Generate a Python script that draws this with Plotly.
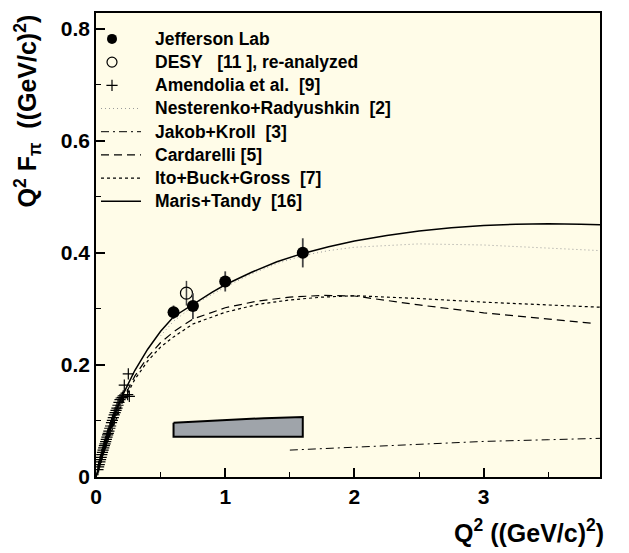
import plotly.graph_objects as go

# ---------------- data ----------------
jlab_q2 = [0.60, 0.75, 1.00, 1.60]
jlab_val = [0.294, 0.305, 0.349, 0.400]
jlab_err = [0.012, 0.023, 0.018, 0.026]

desy_q2 = [0.70]
desy_val = [0.328]
desy_err = [0.022]

amend_q2 = [0.015, 0.020, 0.025, 0.030, 0.035, 0.040, 0.045, 0.050, 0.055, 0.060,
            0.065, 0.070, 0.075, 0.080, 0.085, 0.090, 0.095, 0.100, 0.107, 0.113,
            0.120, 0.127, 0.134, 0.141, 0.148, 0.155, 0.162, 0.170, 0.178, 0.186,
            0.195, 0.205, 0.211, 0.219, 0.245, 0.250, 0.258]
amend_val = [0.013, 0.018, 0.022, 0.027, 0.031, 0.035, 0.040, 0.044, 0.048, 0.052,
             0.056, 0.059, 0.063, 0.067, 0.071, 0.075, 0.078, 0.082, 0.087, 0.091,
             0.097, 0.101, 0.106, 0.111, 0.115, 0.119, 0.123, 0.128, 0.133, 0.138,
             0.141, 0.142, 0.145, 0.164, 0.147, 0.184, 0.144]

nr_q2 = [0.5, 0.6, 0.8, 1.0, 1.2, 1.4, 1.6, 1.8, 2.0, 2.5, 3.0, 3.5, 3.9]
nr_val = [0.252, 0.278, 0.313, 0.339, 0.362, 0.381, 0.395, 0.404, 0.410, 0.416, 0.414, 0.409, 0.404]

jk_q2 = [1.5, 2.0, 2.5, 3.0, 3.5, 3.9]
jk_val = [0.048, 0.053, 0.058, 0.0635, 0.0665, 0.069]

card_q2 = [0.0, 0.05, 0.1, 0.2, 0.3, 0.4, 0.5, 0.6, 0.75, 1.0, 1.25, 1.5, 1.75, 2.0, 2.35, 2.5, 3.0, 3.5, 3.85]
card_val = [0.0, 0.038, 0.072, 0.135, 0.180, 0.214, 0.240, 0.259, 0.282, 0.302, 0.314, 0.321, 0.324, 0.323, 0.312, 0.307, 0.293, 0.282, 0.274]

ibg_q2 = [0.0, 0.05, 0.1, 0.2, 0.3, 0.4, 0.5, 0.6, 0.75, 1.0, 1.25, 1.5, 1.75, 2.0, 2.5, 3.0, 3.5, 3.9]
ibg_val = [0.0, 0.037, 0.069, 0.130, 0.174, 0.207, 0.232, 0.250, 0.273, 0.294, 0.308, 0.316, 0.321, 0.3235, 0.3185, 0.312, 0.307, 0.303]

mt_q2 = [0.0, 0.02, 0.05, 0.1, 0.15, 0.2, 0.25, 0.3, 0.4, 0.5, 0.6, 0.7, 0.8, 0.9, 1.0,
         1.2, 1.4, 1.6, 1.8, 2.0, 2.25, 2.5, 2.75, 3.0, 3.25, 3.5, 3.75, 3.9]
mt_val = [0.0, 0.018, 0.043, 0.082, 0.115, 0.143, 0.167, 0.190, 0.228, 0.260, 0.286, 0.301, 0.316, 0.330, 0.343,
          0.365, 0.384, 0.399, 0.411, 0.421, 0.431, 0.439, 0.445, 0.449, 0.451, 0.452, 0.451, 0.450]

sys_q2 = [0.6, 0.75, 1.0, 1.3, 1.6, 1.6, 0.6, 0.6]
sys_val = [0.097, 0.099, 0.102, 0.105, 0.107, 0.072, 0.072, 0.097]

legend_labels = [
    "Jefferson Lab",
    "DESY\u00a0\u00a0\u00a0[11\u00a0], re-analyzed",
    "Amendolia et al.\u00a0 [9]",
    "Nesterenko+Radyushkin\u00a0 [2]",
    "Jakob+Kroll\u00a0 [3]",
    "Cardarelli [5]",
    "Ito+Buck+Gross\u00a0 [7]",
    "Maris+Tandy\u00a0 [16]",
]

FONT = "Liberation Sans, Arial, Helvetica, sans-serif"

# styles
ST_NR = dict(color="#9a9a9a", width=1, dash="1px,3px")
ST_JK = dict(color="black", width=1, dash="8px,4px,2px,4px")
ST_CARD = dict(color="black", width=1.2, dash="8px,5px")
ST_IBG = dict(color="black", width=1.2, dash="3px,3px")
ST_MT = dict(color="black", width=1.5)
MK_JLAB = dict(symbol="circle", size=12, color="black")
MK_DESY = dict(symbol="circle-open", size=12, color="black", line=dict(width=1.2))
MK_AMEND = dict(symbol="cross-thin", size=8, line=dict(color="black", width=1.2))

fig = go.Figure()

# systematic band
fig.add_trace(go.Scatter(x=sys_q2, y=sys_val, mode="lines", fill="toself",
                         fillcolor="#9fa4aa", line=dict(color="black", width=2),
                         hoverinfo="skip"))

fig.add_trace(go.Scatter(x=nr_q2, y=nr_val, mode="lines", line=ST_NR))
fig.add_trace(go.Scatter(x=jk_q2, y=jk_val, mode="lines", line=ST_JK))
fig.add_trace(go.Scatter(x=card_q2, y=card_val, mode="lines", line=ST_CARD))
fig.add_trace(go.Scatter(x=ibg_q2, y=ibg_val, mode="lines", line=ST_IBG))
fig.add_trace(go.Scatter(x=mt_q2, y=mt_val, mode="lines", line=ST_MT))

fig.add_trace(go.Scatter(x=amend_q2, y=amend_val, mode="markers", marker=MK_AMEND))
fig.add_trace(go.Scatter(x=desy_q2, y=desy_val, mode="markers",
                         error_y=dict(type="data", array=desy_err, color="#444", thickness=1.5, width=0),
                         marker=MK_DESY))
fig.add_trace(go.Scatter(x=jlab_q2, y=jlab_val, mode="markers",
                         error_y=dict(type="data", array=jlab_err, color="#444", thickness=1.8, width=0),
                         marker=MK_JLAB))

# ---------------- hand-made legend on a pixel-unit overlay axis ----------------
row0, drow = 37, 23.3
sym_x0, sym_x1, sym_xc, txt_x = 101, 141, 112, 153
marker_styles = [MK_JLAB, MK_DESY, MK_AMEND]
line_styles = [ST_NR, ST_JK, ST_CARD, ST_IBG, ST_MT]
for i, mk in enumerate(marker_styles):
    yy = row0 + drow * i
    mk_leg = dict(mk)
    if mk_leg.get("symbol") != "cross-thin":
        mk_leg["size"] = 10
    fig.add_trace(go.Scatter(x=[sym_xc], y=[yy], mode="markers", marker=mk_leg,
                             xaxis="x2", yaxis="y2", hoverinfo="skip"))
for j, ls in enumerate(line_styles):
    yy = row0 + drow * (j + 3)
    fig.add_trace(go.Scatter(x=[sym_x0, sym_x1], y=[yy, yy], mode="lines", line=ls,
                             xaxis="x2", yaxis="y2", hoverinfo="skip"))

annotations = []
for i, lab in enumerate(legend_labels):
    annotations.append(dict(text=lab, xref="x2", yref="y2", x=txt_x, y=row0 + drow * i,
                            xanchor="left", yanchor="middle", showarrow=False,
                            font=dict(family=FONT, size=17.5, color="black", weight="bold")))

annotations += [
    dict(text="Q<sup>2</sup> ((GeV/c)<sup>2</sup>)", xref="paper", yref="paper",
         x=1.012, y=-0.116, xanchor="right", yanchor="middle", showarrow=False,
         font=dict(family=FONT, size=25, color="black", weight="bold")),
    dict(text="Q<sup>2</sup> F<sub>π</sub>  ((GeV/c)<sup>2</sup>)", xref="paper", yref="paper",
         x=-0.135, y=0.79, xanchor="center", yanchor="middle", textangle=-90, showarrow=False,
         font=dict(family=FONT, size=25, color="black", weight="bold")),
]

def axis_style(**kw):
    d = dict(showline=True, linecolor="black", linewidth=1.5, mirror=True,
             ticks="inside", ticklen=9, tickwidth=1.5, tickcolor="black",
             showgrid=False, zeroline=False,
             tickfont=dict(family=FONT, size=21, color="black", weight="bold"))
    d.update(kw)
    return d

fig.update_layout(
    width=629, height=553,
    margin=dict(l=96, r=29, t=11, b=76),
    paper_bgcolor="white", plot_bgcolor="#fffce8",
    font=dict(family=FONT, color="black"),
    showlegend=False,
    xaxis=axis_style(range=[0, 3.9], dtick=1, tick0=0,
                     minor=dict(ticks="inside", ticklen=5, dtick=0.5, tickcolor="black", tickwidth=1.2)),
    yaxis=axis_style(range=[0, 0.828], dtick=0.2, tick0=0,
                     minor=dict(ticks="inside", ticklen=5, dtick=0.1, tickcolor="black", tickwidth=1.2)),
    xaxis2=dict(overlaying="x", range=[96, 600], visible=False, anchor="y2"),
    yaxis2=dict(overlaying="y", range=[477, 11], visible=False, anchor="x2"),
    annotations=annotations,
)

fig.write_html("out.html")
